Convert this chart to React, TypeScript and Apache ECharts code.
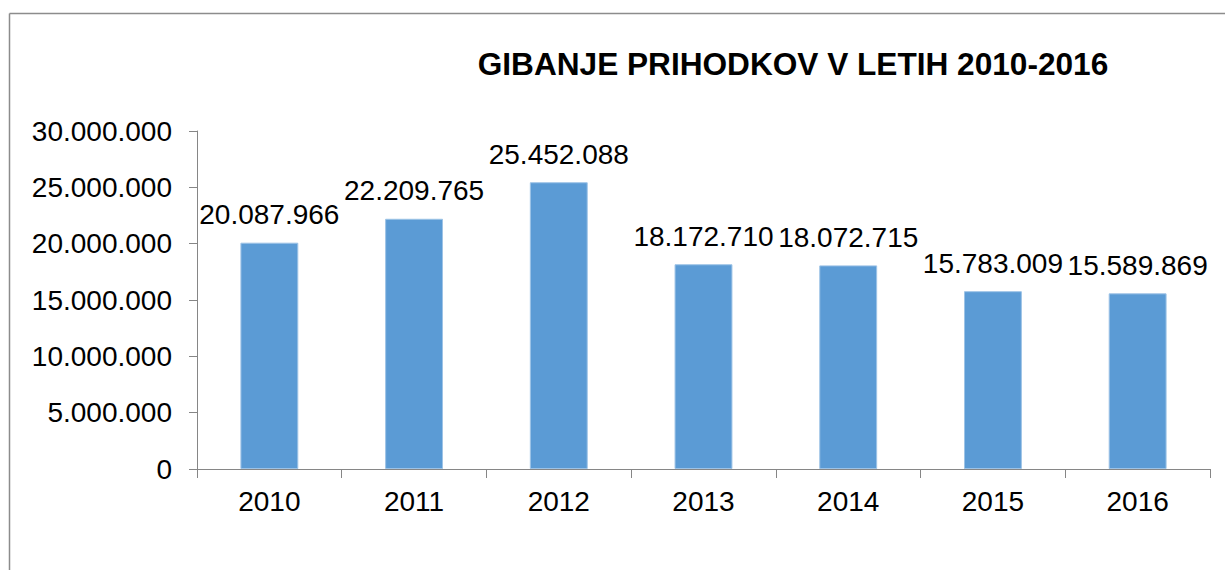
import React, { useEffect, useRef } from "react";
import * as echarts from "echarts";

const years = ["2010", "2011", "2012", "2013", "2014", "2015", "2016"];
const revenues = [20087966, 22209765, 25452088, 18172710, 18072715, 15783009, 15589869];
const titleText = "GIBANJE PRIHODKOV V LETIH 2010-2016";
const yMin = 0;
const yMax = 30000000;
const yStep = 5000000;

const fmt = (v: number) => String(Math.round(v)).replace(/\B(?=(\d{3})+(?!\d))/g, ".");

const FONT = "'Liberation Sans', Arial, sans-serif";

export default function App() {
  const ref = useRef<HTMLDivElement>(null);
  useEffect(() => {
    if (!ref.current) return;
    const chart = echarts.init(ref.current, undefined, { renderer: "svg" });
    chart.setOption({
      animation: false,
      backgroundColor: "#ffffff",
      textStyle: { fontFamily: FONT },
      grid: { left: 197, right: 15, top: 131, bottom: 101, containLabel: false },
      graphic: [
        { type: "line", shape: { x1: 9.5, y1: 13.5, x2: 1225, y2: 13.5 }, style: { stroke: "#8c8c8c", lineWidth: 1.5 } },
        { type: "line", shape: { x1: 9.5, y1: 13.5, x2: 9.5, y2: 570 }, style: { stroke: "#8c8c8c", lineWidth: 1.5 } },
        {
          type: "text",
          x: 793,
          y: 65,
          scaleX: 1.02,
          style: {
            text: titleText,
            font: `bold 31px ${FONT}`,
            fill: "#000",
            textAlign: "center",
            textVerticalAlign: "middle",
          },
        },
      ],
      xAxis: {
        type: "category",
        data: years,
        axisLine: { show: true, lineStyle: { color: "#868686", width: 1 } },
        axisTick: { show: true, length: 9, lineStyle: { color: "#868686" } },
        axisLabel: { color: "#000", fontSize: 28, fontFamily: FONT, margin: 18 },
        splitLine: { show: false },
      },
      yAxis: {
        type: "value",
        min: yMin,
        max: yMax,
        interval: yStep,
        axisLine: { show: true, lineStyle: { color: "#868686", width: 1 } },
        axisTick: { show: true, length: 8, lineStyle: { color: "#868686" } },
        axisLabel: { color: "#000", fontSize: 28, fontFamily: FONT, margin: 25, formatter: (v: number) => fmt(v) },
        splitLine: { show: false },
      },
      series: [
        {
          type: "bar",
          data: revenues,
          barWidth: "40%",
          itemStyle: { color: "#5B9BD5", borderColor: "#9DC3E6", borderWidth: 1 },
          label: {
            show: true,
            position: "top",
            distance: 14,
            color: "#000",
            fontSize: 28,
            fontFamily: FONT,
            formatter: (p: any) => fmt(p.value),
          },
        },
      ],
    });
    return () => chart.dispose();
  }, []);
  return (
    <div
      ref={ref}
      style={{ position: "absolute", left: 0, top: 0, width: 1225, height: 570, background: "#fff" }}
    />
  );
}
